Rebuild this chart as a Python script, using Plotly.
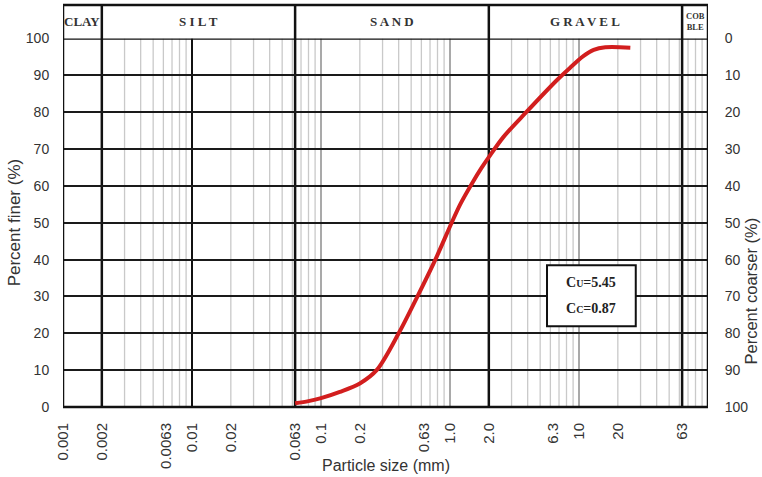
import math
import plotly.graph_objects as go

# Grain size distribution (sieve + hydrometer)
diameter_mm = [0.063, 0.08, 0.1, 0.14, 0.2, 0.27, 0.4, 0.55, 0.77, 1.03,
               1.2, 1.5, 1.75, 2.0, 2.6, 3.9, 6.7, 8.5, 10.8, 13, 16, 25]
percent_finer = [1.0, 1.6, 2.4, 4.1, 6.4, 10.0, 20, 29.5, 40, 50,
                 55, 61, 64.8, 67.8, 73.3, 80, 88.6, 92.0, 95.2, 96.9, 97.6, 97.5]

x_tickvals = [0.001, 0.002, 0.0063, 0.01, 0.02, 0.063, 0.1, 0.2, 0.63, 1.0,
              2.0, 6.3, 10, 20, 63]
x_ticktext = ["0.001", "0.002", "0.0063", "0.01", "0.02", "0.063", "0.1", "0.2",
              "0.63", "1.0", "2.0", "6.3", "10", "20", "63"]
y_ticks = list(range(0, 101, 10))

# Soil classes and their size limits (mm)
soil_classes = ["CLAY", "S I L T", "S A N D", "G R A V E L", "COB<br>BLE"]
class_limits = [0.001, 0.002, 0.063, 2.0, 63, 100]

fu_text = "C<span style='font-size:10px'>U</span>=5.45"
fc_text = "C<span style='font-size:10px'>C</span>=0.87"

X_MIN, X_MAX = 0.001, 100
PLOT_TOP = 0.9167  # top of the data area; header band sits above it

SANS = "Arial, Liberation Sans, sans-serif"
SERIF = "Times New Roman, Liberation Serif, serif"
TXT = "#333333"

fig = go.Figure()
fig.add_trace(go.Scatter(
    x=diameter_mm, y=percent_finer, mode="lines",
    line=dict(color="#d21e1e", width=4, shape="spline", smoothing=0.9),
    hoverinfo="skip"))
# percent coarser on the secondary axis (invisible, keeps the right axis alive)
fig.add_trace(go.Scatter(
    x=diameter_mm, y=[100 - v for v in percent_finer], yaxis="y2",
    mode="lines", line=dict(width=0), opacity=0, hoverinfo="skip"))

shapes = []

def vline(v, color, width, y0=0, y1=100, yref="y"):
    shapes.append(dict(type="line", xref="x", yref=yref, x0=v, x1=v,
                       y0=y0, y1=y1, line=dict(color=color, width=width),
                       layer="below"))

# minor grid: 2..9 within each decade
bold_values = {0.002, 0.01, 0.063, 2.0, 63}
for n in range(-3, 2):
    for k in range(2, 10):
        v = round(k * 10 ** n, 6)
        if v <= 0.002 or v in bold_values:
            continue
        vline(v, "#c9c9c9", 1.3)
# decade lines
for v in [0.1, 1.0, 10]:
    vline(v, "#8c8c8c", 1.5)
vline(0.01, "#111111", 2)
# class boundaries run through the header band
for v in class_limits[1:-1]:
    vline(v, "#111111", 2.5, 0, 1, "paper")

# header bottom edge and outer frame
shapes.append(dict(type="line", xref="x", yref="y", x0=X_MIN, x1=X_MAX, y0=100, y1=100,
                   line=dict(color="#111111", width=2.5)))
shapes.append(dict(type="rect", xref="x", yref="paper", x0=X_MIN, x1=X_MAX, y0=0, y1=1,
                   line=dict(color="#111111", width=2.5)))

# coefficient box
shapes.append(dict(type="rect", xref="paper", yref="y", x0=0.7504, x1=0.888,
                   y0=21.9, y1=38.5, fillcolor="white",
                   line=dict(color="#111111", width=2), layer="above"))

annotations = []
header_y = (PLOT_TOP + 1) / 2
for name, a, b in zip(soil_classes, class_limits[:-1], class_limits[1:]):
    mid = (math.log10(a) + math.log10(b)) / 2
    small = "<br>" in name
    annotations.append(dict(
        x=mid, y=header_y, xref="x", yref="paper", text="<b>%s</b>" % name,
        showarrow=False, xanchor="center", yanchor="middle",
        font=dict(family=SERIF, size=8.5 if small else 13, color=TXT)))

for txt, yv in [(fu_text, 33.8), (fc_text, 26.6)]:
    annotations.append(dict(x=0.8192, y=yv, xref="paper", yref="y",
                            text="<b>%s</b>" % txt, showarrow=False,
                            xanchor="center", yanchor="middle",
                            font=dict(family=SERIF, size=14, color="#222")))

# axis titles
annotations.append(dict(x=0.5, y=-0.145, xref="paper", yref="paper",
                        text="Particle size (mm)", showarrow=False,
                        xanchor="center", yanchor="middle",
                        font=dict(family=SANS, size=16, color=TXT)))
annotations.append(dict(x=-0.075, y=50, xref="paper", yref="y",
                        text="Percent finer (%)", showarrow=False, textangle=-90,
                        xanchor="center", yanchor="middle",
                        font=dict(family=SANS, size=17, color=TXT)))
annotations.append(dict(x=1.066, y=31.5, xref="paper", yref="y",
                        text="Percent coarser (%)", showarrow=False, textangle=-90,
                        xanchor="center", yanchor="middle",
                        font=dict(family=SANS, size=16.5, color=TXT)))

fig.update_layout(
    width=762, height=477,
    margin=dict(l=63, r=54, t=5, b=70),
    plot_bgcolor="white", paper_bgcolor="white",
    showlegend=False,
    shapes=shapes, annotations=annotations,
    xaxis=dict(type="log", range=[math.log10(X_MIN), math.log10(X_MAX)],
               tickvals=x_tickvals, ticktext=x_ticktext, tickangle=-90,
               showgrid=False, zeroline=False, showline=False,
               ticks="outside", ticklen=9, tickcolor="rgba(0,0,0,0)",
               tickfont=dict(family=SANS, size=15, color=TXT), automargin=False),
    yaxis=dict(range=[0, 100], domain=[0, PLOT_TOP], tickvals=y_ticks,
               showgrid=True, gridcolor="#1a1a1a", gridwidth=1.5,
               zeroline=False, showline=False,
               ticks="outside", ticklen=10, tickcolor="rgba(0,0,0,0)",
               tickfont=dict(family=SANS, size=14, color=TXT), automargin=False),
    yaxis2=dict(range=[100, 0], overlaying="y", side="right", tickvals=y_ticks,
                showgrid=False, zeroline=False, showline=False,
                ticks="outside", ticklen=13, tickcolor="rgba(0,0,0,0)",
                tickfont=dict(family=SANS, size=14, color=TXT), automargin=False),
)

fig.write_html("out.html")
